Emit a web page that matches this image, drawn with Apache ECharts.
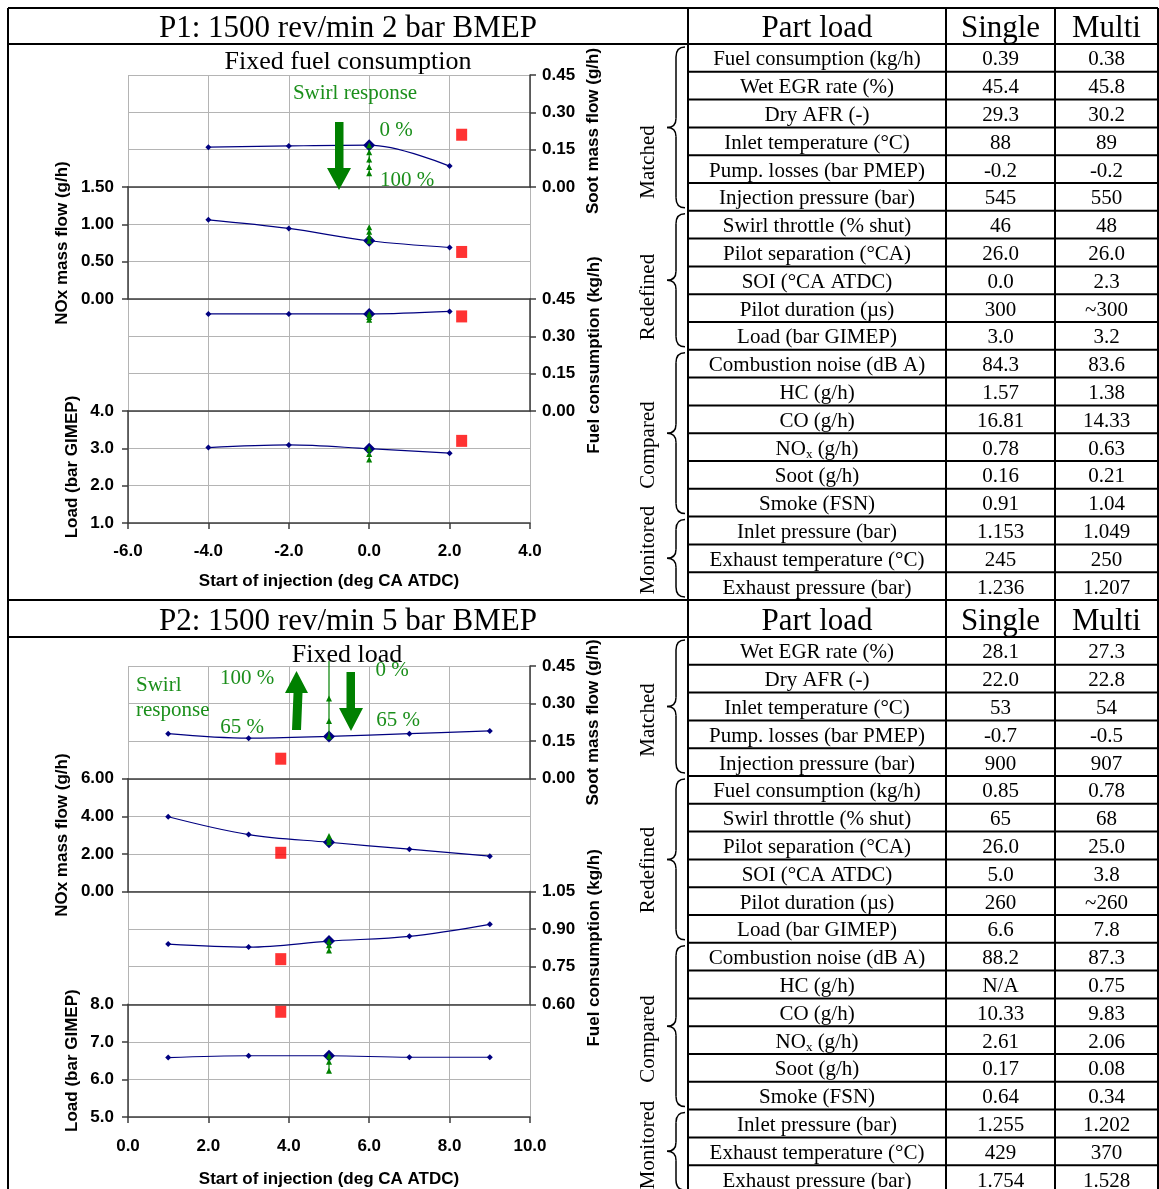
<!DOCTYPE html>
<html><head><meta charset="utf-8">
<script src="https://cdn.jsdelivr.net/npm/echarts@6/dist/echarts.min.js"></script>
<style>html,body{margin:0;padding:0;background:#fff}#c{width:1159px;height:1189px}</style>
</head><body><div id="c"></div>
<script>
// ================= DATA =================
// P1: 1500 rev/min 2 bar BMEP (fixed fuel consumption)
const p1Soi = [-4, -2, 0, 2];
const p1Soot = [0.160, 0.165, 0.168, 0.084];
const p1Nox = [1.06, 0.945, 0.78, 0.69];
const p1Fuel = [0.39, 0.39, 0.39, 0.40];
const p1Load = [3.02, 3.09, 2.99, 2.87];
const p1SingleSoi = 0;
const p1MultiSoi = 2.3;
const p1MultiVals = [0.21, 0.63, 0.38, 3.2];      // soot, NOx, fuel, load
const p1SwirlSoot = [0.168, 0.14, 0.11, 0.08, 0.055];
const p1SwirlNox = [0.78, 0.84, 0.90, 0.96];
const p1SwirlFuel = [0.39, 0.378, 0.367];
const p1SwirlLoad = [2.99, 2.85, 2.70];
const p1YMin = [0, 0, 0, 1], p1YMax = [0.45, 1.5, 0.45, 4], p1YStep = [0.15, 0.5, 0.15, 1];

// P2: 1500 rev/min 5 bar BMEP (fixed load)
const p2Soi = [1, 3, 5, 7, 9];
const p2Soot = [0.180, 0.162, 0.169, 0.180, 0.191];
const p2Nox = [3.98, 3.03, 2.62, 2.25, 1.88];
const p2Fuel = [0.84, 0.828, 0.852, 0.871, 0.919];
const p2Load = [6.58, 6.63, 6.63, 6.59, 6.59];
const p2SingleSoi = 5;
const p2MultiSoi = 3.8;
const p2MultiVals = [0.08, 2.06, 0.78, 7.8];
const p2SwirlSoot = [0.169, 0.23, 0.32, 0.47];
const p2SwirlNox = [2.62, 2.78, 2.95];
const p2SwirlFuel = [0.852, 0.835, 0.815];
const p2SwirlLoad = [6.63, 6.47, 6.23];
const p2YMin = [0, 0, 0.6, 5], p2YMax = [0.45, 6, 1.05, 8], p2YStep = [0.15, 2, 0.15, 1];

const yNames = ['Soot mass flow (g/h)', 'NOx mass flow (g/h)', 'Fuel consumption (kg/h)', 'Load (bar GIMEP)'];
const yDecimals = [2, 2, 2, 1];
const xTitle = 'Start of injection (deg CA ATDC)';
const chartTitles = ['Fixed fuel consumption', 'Fixed load'];
const sectionTitles = ['P1: 1500 rev/min 2 bar BMEP', 'P2: 1500 rev/min 5 bar BMEP'];
const tableHeads = ['Part load', 'Single', 'Multi'];

const p1Labels = ['Fuel consumption (kg/h)','Wet EGR rate (%)','Dry AFR (-)','Inlet temperature (°C)','Pump. losses (bar PMEP)','Injection pressure (bar)','Swirl throttle (% shut)','Pilot separation (°CA)','SOI (°CA ATDC)','Pilot duration (µs)','Load (bar GIMEP)','Combustion noise (dB A)','HC (g/h)','CO (g/h)','NOx (g/h)','Soot (g/h)','Smoke (FSN)','Inlet pressure (bar)','Exhaust temperature (°C)','Exhaust pressure (bar)'];
const p1Single = ['0.39','45.4','29.3','88','-0.2','545','46','26.0','0.0','300','3.0','84.3','1.57','16.81','0.78','0.16','0.91','1.153','245','1.236'];
const p1Multi = ['0.38','45.8','30.2','89','-0.2','550','48','26.0','2.3','~300','3.2','83.6','1.38','14.33','0.63','0.21','1.04','1.049','250','1.207'];
const p1GroupNames = ['Matched','Redefined','Compared','Monitored'];
const p1GroupSizes = [6, 5, 6, 3];

const p2Labels = ['Wet EGR rate (%)','Dry AFR (-)','Inlet temperature (°C)','Pump. losses (bar PMEP)','Injection pressure (bar)','Fuel consumption (kg/h)','Swirl throttle (% shut)','Pilot separation (°CA)','SOI (°CA ATDC)','Pilot duration (µs)','Load (bar GIMEP)','Combustion noise (dB A)','HC (g/h)','CO (g/h)','NOx (g/h)','Soot (g/h)','Smoke (FSN)','Inlet pressure (bar)','Exhaust temperature (°C)','Exhaust pressure (bar)'];
const p2Single = ['28.1','22.0','53','-0.7','900','0.85','65','26.0','5.0','260','6.6','88.2','N/A','10.33','2.61','0.17','0.64','1.255','429','1.754'];
const p2Multi = ['27.3','22.8','54','-0.5','907','0.78','68','25.0','3.8','~260','7.8','87.3','0.75','9.83','2.06','0.08','0.34','1.202','370','1.528'];
const p2GroupNames = ['Matched','Redefined','Compared','Monitored'];
const p2GroupSizes = [5, 6, 6, 3];

// ================= STYLE / LAYOUT =================
const SANS = 'Liberation Sans, Arial, sans-serif';
const SERIF = 'Liberation Serif, Times New Roman, serif';
const GRID_GRAY = '#b4b4b4';
const AXIS_DARK = '#3c3c3c';
const NAVY = '#000080';
const GREEN = '#008000';
const GREEN_TXT = '#1b8f1b';
const GRID_LEFT = 128, GRID_W = 402;
const ySides = ['right', 'left', 'right', 'left'];
const nameGaps = [55, 57, 56, 47];
const SDY = 2; // serif text baseline nudge

const option = { animation: false, backgroundColor: '#fff', grid: [], xAxis: [], yAxis: [], series: [], graphic: [] };

function buildPlot(soi, vals, swirl, singleSoi, multiSoi, multiVals, xMin, xMax, yMin, yMax, yStep, top0, panelH, dashed, xLabelMargin, xNameGap) {
  for (let k = 0; k < 4; k++) {
    const gi = option.grid.length;
    const bottom = k === 3;
    option.grid.push({ left: GRID_LEFT, top: top0 + k * panelH, width: GRID_W, height: panelH });
    option.xAxis.push({
      type: 'value', gridIndex: gi, min: xMin, max: xMax, interval: 2,
      axisLine: { show: true, onZero: false, lineStyle: { color: AXIS_DARK, width: 1.5 } },
      axisTick: { show: bottom, length: 6, lineStyle: { color: AXIS_DARK, width: 1.5 } },
      axisLabel: { show: bottom, margin: xLabelMargin, formatter: v => v.toFixed(1), color: '#000', fontFamily: SANS, fontWeight: 'bold', fontSize: 17 },
      splitLine: { show: true, lineStyle: { color: GRID_GRAY, width: 1 } },
      name: bottom ? xTitle : '', nameLocation: 'middle', nameGap: xNameGap,
      nameTextStyle: { color: '#000', fontFamily: SANS, fontWeight: 'bold', fontSize: 17 }
    });
    option.yAxis.push({
      type: 'value', gridIndex: gi, position: ySides[k], min: yMin[k], max: yMax[k], interval: yStep[k],
      axisLine: { show: true, onZero: false, lineStyle: { color: AXIS_DARK, width: 1.5 } },
      axisTick: { show: true, length: 6, lineStyle: { color: AXIS_DARK, width: 1.5 } },
      axisLabel: { margin: ySides[k] === 'left' ? 14 : 12, formatter: v => v.toFixed(yDecimals[k]), color: '#000', fontFamily: SANS, fontWeight: 'bold', fontSize: 17 },
      splitLine: { show: true, lineStyle: { color: GRID_GRAY, width: 1 } },
      name: yNames[k], nameLocation: 'middle', nameGap: nameGaps[k], nameRotate: 90,
      nameTextStyle: { color: '#000', fontFamily: SANS, fontWeight: 'bold', fontSize: 17 }
    });
    option.series.push({
      type: 'line', xAxisIndex: gi, yAxisIndex: gi, smooth: 0.35, z: 3,
      data: soi.map((x, i) => [x, vals[k][i]]),
      symbol: 'diamond', symbolSize: v => (v[0] === singleSoi ? 12 : 6),
      lineStyle: { color: NAVY, width: 1.2 }, itemStyle: { color: NAVY }
    });
    option.series.push({
      type: 'line', xAxisIndex: gi, yAxisIndex: gi, z: 4, clip: false,
      data: swirl[k].map(v => (v > yMax[k] ? { value: [singleSoi, v], symbol: 'none' } : [singleSoi, v])),
      symbol: 'triangle', symbolSize: 6,
      lineStyle: { color: GREEN, width: 1.2, type: dashed ? [3, 2] : 'solid' }, itemStyle: { color: GREEN }
    });
    option.series.push({
      type: 'scatter', xAxisIndex: gi, yAxisIndex: gi, z: 5,
      data: [[multiSoi, multiVals[k]]],
      symbol: 'rect', symbolSize: [11, 12], itemStyle: { color: '#ff0000' }
    });
  }
}

buildPlot(p1Soi, [p1Soot, p1Nox, p1Fuel, p1Load], [p1SwirlSoot, p1SwirlNox, p1SwirlFuel, p1SwirlLoad],
  p1SingleSoi, p1MultiSoi, p1MultiVals, -6, 4, p1YMin, p1YMax, p1YStep, 75, 112, true, 20, 50);
buildPlot(p2Soi, [p2Soot, p2Nox, p2Fuel, p2Load], [p2SwirlSoot, p2SwirlNox, p2SwirlFuel, p2SwirlLoad],
  p2SingleSoi, p2MultiSoi, p2MultiVals, 0, 10, p2YMin, p2YMax, p2YStep, 666, 112.75, false, 21, 54);

// ================= GRAPHIC: frame, tables, annotations =================
const G = option.graphic;
function line(x1, y1, x2, y2, w) {
  G.push({ type: 'line', shape: { x1, y1, x2, y2 }, style: { stroke: '#000', lineWidth: w || 2 }, z: 50, silent: true });
}
function curve(x1, y1, cx, cy, x2, y2) {
  G.push({ type: 'bezierCurve', shape: { x1, y1, x2, y2, cpx1: cx, cpy1: cy }, style: { stroke: '#000', lineWidth: 1.5, fill: null }, z: 55, silent: true });
}
function text(x, y, str, font, fill, extra) {
  const s = Object.assign({ text: str, x, y: y + SDY, font, fill: fill || '#000', align: 'center', verticalAlign: 'middle', textAlign: 'center', textVerticalAlign: 'middle' }, extra || {});
  G.push({ type: 'text', style: s, z: 60, silent: true });
}

const COLS = [688, 946, 1055, 1158];
const RH = 27.8;
const secTop = [8, 600];
const secHeadBottom = [44, 637];

// outer frame & section lines
line(8, 8, 1158, 8);
[44, 600, 637].forEach(y => line(8, y, 1158, y));
line(8, 8, 8, 1189);
COLS.forEach(x => line(x, 8, x, 1189));

const tables = [
  { labels: p1Labels, single: p1Single, multi: p1Multi, gNames: p1GroupNames, gSizes: p1GroupSizes, labelY: [162, 297, 445, 550] },
  { labels: p2Labels, single: p2Single, multi: p2Multi, gNames: p2GroupNames, gSizes: p2GroupSizes, labelY: [720, 870, 1039, 1145] }
];

tables.forEach((t, si) => {
  const hy = (secTop[si] + secHeadBottom[si]) / 2;
  text(348, hy + 1, sectionTitles[si], '31px ' + SERIF);
  text((COLS[0] + COLS[1]) / 2, hy + 1, tableHeads[0], '31px ' + SERIF);
  text((COLS[1] + COLS[2]) / 2, hy + 1, tableHeads[1], '31px ' + SERIF);
  text((COLS[2] + COLS[3]) / 2, hy + 1, tableHeads[2], '31px ' + SERIF);
  const y0 = secHeadBottom[si];
  t.labels.forEach((lab, i) => {
    const cy = y0 + (i + 0.5) * RH;
    if (i > 0) line(COLS[0], y0 + i * RH, COLS[3], y0 + i * RH);
    if (lab.indexOf('NOx') === 0) {
      G.push({ type: 'text', z: 60, silent: true, style: {
        text: 'NO{s|x} (g/h)', x: (COLS[0] + COLS[1]) / 2, y: cy + SDY, font: '21px ' + SERIF, fill: '#000',
        align: 'center', verticalAlign: 'middle', textAlign: 'center', textVerticalAlign: 'middle', lineHeight: 24,
        rich: { s: { fontSize: 13, fontFamily: SERIF, lineHeight: 24, verticalAlign: 'bottom', fill: '#000' } }
      } });
    } else {
      text((COLS[0] + COLS[1]) / 2, cy, lab, '21px ' + SERIF);
    }
    text((COLS[1] + COLS[2]) / 2, cy, t.single[i], '21px ' + SERIF);
    text((COLS[2] + COLS[3]) / 2, cy, t.multi[i], '21px ' + SERIF);
  });
  // braces and group labels
  let r = 0;
  t.gSizes.forEach((n, gi) => {
    const a = y0 + r * RH, b = y0 + (r + n) * RH, tip = (a + b) / 2;
    const X = 676, E = 685, T = 667;
    curve(E, a + 3, X, a + 3, X, a + 13);
    G.push({ type: 'line', shape: { x1: X, y1: a + 13, x2: X, y2: tip - 9 }, style: { stroke: '#000', lineWidth: 1.5 }, z: 55, silent: true });
    curve(X, tip - 9, X, tip, T, tip);
    curve(T, tip, X, tip, X, tip + 9);
    G.push({ type: 'line', shape: { x1: X, y1: tip + 9, x2: X, y2: b - 13 }, style: { stroke: '#000', lineWidth: 1.5 }, z: 55, silent: true });
    curve(X, b - 13, X, b - 3, E, b - 3);
    G.push({ type: 'text', z: 60, silent: true, x: 648, y: t.labelY[gi], rotation: Math.PI / 2,
      style: { text: t.gNames[gi], x: 0, y: 0, font: '21px ' + SERIF, fill: '#000', align: 'center', verticalAlign: 'middle', textAlign: 'center', textVerticalAlign: 'middle' } });
    r += n;
  });
});

// chart titles
text(348, 60, chartTitles[0], '26px ' + SERIF);
text(347, 653, chartTitles[1], '26px ' + SERIF);

// swirl annotations
const GF = '21px ' + SERIF;
text(355, 91, 'Swirl response', GF, GREEN_TXT);
text(396, 128, '0 %', GF, GREEN_TXT);
text(407, 178, '100 %', GF, GREEN_TXT);
text(136, 683, 'Swirl', GF, GREEN_TXT, { align: 'left', textAlign: 'left' });
text(136, 708, 'response', GF, GREEN_TXT, { align: 'left', textAlign: 'left' });
text(247, 676, '100 %', GF, GREEN_TXT);
text(242, 725, '65 %', GF, GREEN_TXT);
text(392, 668, '0 %', GF, GREEN_TXT);
text(398, 718, '65 %', GF, GREEN_TXT);

function arrow(points) {
  G.push({ type: 'polygon', z: 58, silent: true, shape: { points }, style: { fill: GREEN, stroke: null } });
}
arrow([[335, 122], [343.5, 122], [343.5, 168], [351, 168], [339, 190], [327, 168], [335, 168]]);
arrow([[292, 730], [301, 730], [302.5, 693], [308, 693], [296.5, 671], [285, 693], [293.5, 693]]);
arrow([[346.5, 672], [355, 672], [355, 708], [363, 708], [351, 731], [339, 708], [346.5, 708]]);

const chart = echarts.init(document.getElementById('c'), null, { renderer: 'canvas', width: 1159, height: 1189 });
chart.setOption(option);
</script>
</body></html>
